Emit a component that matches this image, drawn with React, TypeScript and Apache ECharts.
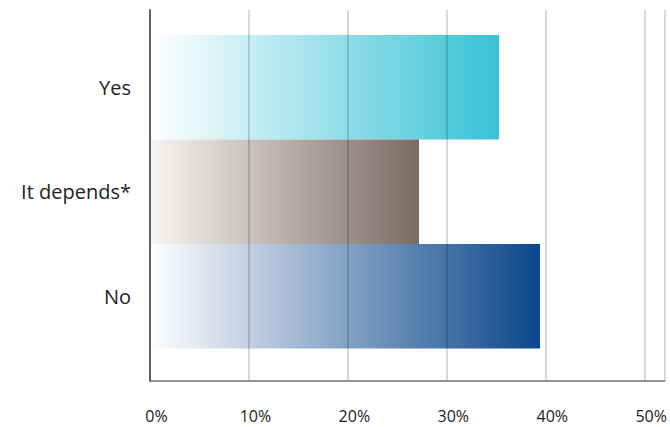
import React, { useEffect, useRef } from "react";
import * as echarts from "echarts";

const categories = ["Yes", "It depends*", "No"];
const values = [34.9, 26.9, 39.0];
const endColors = ["#38c2d6", "#7b6b62", "#0a468b"];
const startColors = ["#ffffff", "#f7f5f4", "#ffffff"];
const tickValues = [0, 10, 20, 30, 40, 50];

export default function App() {
  const ref = useRef<HTMLDivElement>(null);
  useEffect(() => {
    if (!ref.current) return;
    const chart = echarts.init(ref.current, undefined, { renderer: "svg" });
    const font = "Open Sans";
    chart.setOption({
      animation: false,
      grid: [
        { left: 150, top: 10, right: 0, bottom: 46.5, containLabel: false },
        { left: 150, top: 35, right: 0, bottom: 78.5, containLabel: false },
      ],
      xAxis: [
        {
          gridIndex: 0,
          type: "value",
          min: 0,
          max: 52,
          interval: 10,
          z: 10,
          axisLine: { show: true, lineStyle: { color: "#6e6e6e", width: 1.6 } },
          axisTick: { show: false },
          splitLine: {
            show: true,
            lineStyle: { color: "rgba(0,0,0,0.2)", width: 1.6 },
          },
          axisLabel: { show: false },
        },
        {
          gridIndex: 1,
          type: "value",
          min: 0,
          max: 52,
          show: false,
        },
        {
          gridIndex: 0,
          type: "value",
          position: "bottom",
          min: -0.65,
          max: 51.35,
          axisLine: { show: false },
          axisTick: { show: false },
          splitLine: { show: false },
          axisLabel: {
            customValues: tickValues,
            margin: 27,
            fontSize: 16,
            lineHeight: 16,
            fontFamily: font,
            color: "#222",
            formatter: (v: number) => v + "%",
          },
        },
      ],
      yAxis: [
        {
          gridIndex: 0,
          type: "value",
          min: 0,
          max: 1,
          z: 11,
          axisLine: { show: true, lineStyle: { color: "#555", width: 1.8 } },
          axisTick: { show: false },
          axisLabel: { show: false },
          splitLine: { show: false },
        },
        {
          gridIndex: 1,
          type: "category",
          data: categories,
          inverse: true,
          axisLine: { show: false },
          axisTick: { show: false },
          axisLabel: {
            margin: 19,
            fontSize: 20,
            fontFamily: font,
            color: "#222",
          },
        },
      ],
      series: [
        {
          type: "bar",
          xAxisIndex: 1,
          yAxisIndex: 1,
          barWidth: "100%",
          barCategoryGap: 0,
          z: 1,
          data: values.map((v, i) => ({
            value: v,
            itemStyle: {
              color: new echarts.graphic.LinearGradient(0, 0, 1, 0, [
                { offset: 0, color: startColors[i] },
                { offset: 1, color: endColors[i] },
              ]),
            },
          })),
        },
      ],
    });
    return () => chart.dispose();
  }, []);
  return <div ref={ref} style={{ width: 670, height: 427, position: "absolute", left: 0, top: 0 }} />;
}
